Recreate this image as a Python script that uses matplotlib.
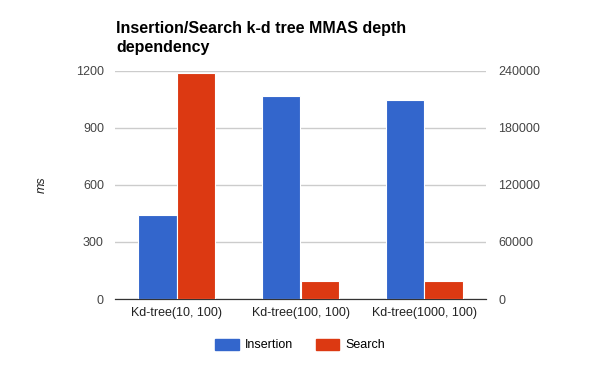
import matplotlib.pyplot as plt
import numpy as np
from matplotlib.patches import Patch

plt.rcParams['font.family'] = ['Liberation Sans', 'DejaVu Sans']

categories = ['Kd-tree(10, 100)', 'Kd-tree(100, 100)', 'Kd-tree(1000, 100)']
insertion = [442, 1068, 1045]        # left axis, ms
search = [237600, 19000, 19000]      # right axis

left_ticks = [0, 300, 600, 900, 1200]
right_ticks = [0, 60000, 120000, 180000, 240000]

title_lines = ['Insertion/Search k-d tree MMAS depth', 'dependency']

blue = '#3366cc'
red = '#dc3912'

fig = plt.figure(figsize=(6, 3.71), dpi=100)
ax = fig.add_axes([115/600, 1 - 299/371, 371/600, 228/371])
ax2 = ax.twinx()

x = np.arange(len(categories))
w = 0.31
ax.bar(x - w/2, insertion, w, color=blue, edgecolor='white', linewidth=0.8, zorder=3)
ax2.bar(x + w/2, search, w, color=red, edgecolor='white', linewidth=0.8, zorder=3)

ax.set_xlim(-0.5, 2.5)
ax.set_ylim(0, 1200)
ax2.set_ylim(0, 240000)
ax.set_yticks(left_ticks)
ax2.set_yticks(right_ticks)
ax.set_xticks(x)
ax.set_xticklabels(categories)

ax.grid(axis='y', color='#cccccc', linewidth=1, zorder=0)
ax.set_axisbelow(True)
for a in (ax, ax2):
    for s in ('top', 'right', 'left'):
        a.spines[s].set_visible(False)
    a.spines['bottom'].set_color('#333333')
    a.tick_params(length=0, labelsize=9, colors='#444444')
ax.tick_params(axis='y', pad=8)
ax2.tick_params(axis='y', pad=9)
ax.tick_params(axis='x', pad=6, colors='#222222')

ax.set_ylabel('ms', style='italic', fontsize=9, color='#222222', labelpad=20)

# title, two lines placed by baseline
fig.text(116/600, 1 - 33.3/371, title_lines[0], fontsize=11.5, fontweight='bold',
         va='baseline', ha='left')
fig.text(116/600, 1 - 51.7/371, title_lines[1], fontsize=11.5, fontweight='bold',
         va='baseline', ha='left')

handles = [Patch(color=blue), Patch(color=red)]
fig.legend(handles, ['Insertion', 'Search'], loc='center', bbox_to_anchor=(0.5, 1 - 345/371),
           ncol=2, frameon=False, fontsize=9, handlelength=1.9, handleheight=1.0,
           columnspacing=1.8, handletextpad=0.5)

fig.savefig('out.png', dpi=100)
